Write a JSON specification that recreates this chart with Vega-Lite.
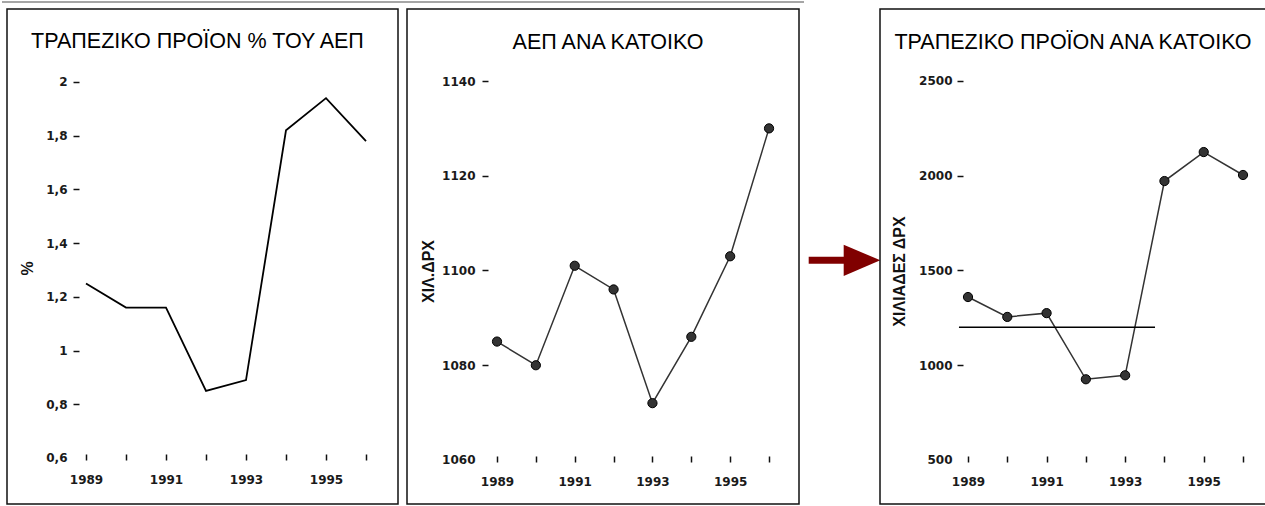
{
  "$schema": "https://vega.github.io/schema/vega-lite/v6.json",
  "padding": 0,
  "bounds": "flush",
  "spacing": 9,
  "background": "white",
  "config": {
    "font": "Liberation Sans",
    "view": {"stroke": "#111", "strokeWidth": 1.5},
    "axis": {
      "domain": false, "grid": false, "ticks": true, "tickSize": 6, "tickWidth": 1.5, "tickColor": "#111",
      "labelFont": "DejaVu Sans", "labelFontWeight": "bold", "labelFontSize": 12, "labelColor": "#1a1a1a",
      "titleFont": "Liberation Sans", "titleFontWeight": "bold", "titleFontSize": 16, "titleColor": "#111",
      "labelOverlap": false, "labelFlush": false
    },
    "axisY": {"titleAngle": -90, "titleAlign": "center", "titleBaseline": "middle"},
    "title": {"font": "Liberation Sans", "fontSize": 21.5, "fontWeight": "normal", "color": "#000", "anchor": "middle", "frame": "group", "baseline": "top"}
  },
  "data": {"values": [
    {"year": 1989, "bank_share": 1.25, "gdp_per_capita": 1085, "bank_per_capita": 1360},
    {"year": 1990, "bank_share": 1.16, "gdp_per_capita": 1080, "bank_per_capita": 1255},
    {"year": 1991, "bank_share": 1.16, "gdp_per_capita": 1101, "bank_per_capita": 1275},
    {"year": 1992, "bank_share": 0.85, "gdp_per_capita": 1096, "bank_per_capita": 926},
    {"year": 1993, "bank_share": 0.89, "gdp_per_capita": 1072, "bank_per_capita": 947},
    {"year": 1994, "bank_share": 1.82, "gdp_per_capita": 1086, "bank_per_capita": 1972},
    {"year": 1995, "bank_share": 1.94, "gdp_per_capita": 1103, "bank_per_capita": 2125},
    {"year": 1996, "bank_share": 1.78, "gdp_per_capita": 1130, "bank_per_capita": 2004}
  ]},
  "hconcat": [
    {
      "width": 391, "height": 495,
      "title": {"text": "ΤΡΑΠΕΖΙΚΟ ΠΡΟΪΟΝ % ΤΟΥ ΑΕΠ", "offset": -51.5, "dx": -5},
      "layer": [
        {
          "mark": {"type": "line", "color": "#000", "strokeWidth": 1.8},
          "encoding": {
            "x": {"field": "year", "type": "quantitative", "scale": {"domain": [1987.025, 1996.8], "nice": false, "zero": false},
              "axis": {"values": [1989, 1990, 1991, 1992, 1993, 1994, 1995, 1996], "labelExpr": "datum.value % 2 == 1 ? toString(datum.value) : ''", "title": null, "offset": -50, "labelPadding": 14}},
            "y": {"field": "bank_share", "type": "quantitative", "scale": {"domain": [0.4287, 2.2718], "nice": false, "zero": false},
              "axis": {"values": [0.6, 0.8, 1, 1.2, 1.4, 1.6, 1.8, 2], "labelExpr": "replace(toString(datum.value), '.', ',')", "title": "%", "titleX": -52, "titleY": 259, "offset": -72, "labelPadding": 6,
                "tickOpacity": {"condition": {"test": "datum.value < 0.7", "value": 0}, "value": 1}}}
          }
        },
        {
          "data": {"values": [{"from": 1986.9, "to": 2006.95, "level": 2.298}]},
          "mark": {"type": "rule", "color": "#a6a6a6", "strokeWidth": 2},
          "encoding": {
            "x": {"field": "from", "type": "quantitative", "scale": {"domain": [1987.025, 1996.8], "nice": false, "zero": false},
              "axis": {"values": [1989, 1990, 1991, 1992, 1993, 1994, 1995, 1996], "labelExpr": "datum.value % 2 == 1 ? toString(datum.value) : ''", "title": null, "offset": -50, "labelPadding": 14}},
            "x2": {"field": "to"},
            "y": {"field": "level", "type": "quantitative", "scale": {"domain": [0.4287, 2.2718], "nice": false, "zero": false},
              "axis": {"values": [0.6, 0.8, 1, 1.2, 1.4, 1.6, 1.8, 2], "labelExpr": "replace(toString(datum.value), '.', ',')", "title": "%", "titleX": -52, "titleY": 259, "offset": -72, "labelPadding": 6,
                "tickOpacity": {"condition": {"test": "datum.value < 0.7", "value": 0}, "value": 1}}}
          }
        }
      ]
    },
    {
      "width": 392, "height": 495,
      "title": {"text": "ΑΕΠ ΑΝΑ ΚΑΤΟΙΚΟ", "offset": -44.25, "dx": 5},
      "mark": {"type": "line", "color": "#333", "strokeWidth": 1.5, "point": {"filled": true, "size": 85, "fill": "#333", "stroke": "#000", "strokeWidth": 1, "opacity": 1}},
      "encoding": {
        "x": {"field": "year", "type": "quantitative", "scale": {"domain": [1986.684, 1996.771], "nice": false, "zero": false},
          "axis": {"values": [1989, 1990, 1991, 1992, 1993, 1994, 1995, 1996], "labelExpr": "datum.value % 2 == 1 ? toString(datum.value) : ''", "title": null, "offset": -48, "labelPadding": 14}},
        "y": {"field": "gdp_per_capita", "type": "quantitative", "scale": {"domain": [1050.71, 1155.2], "nice": false, "zero": false},
          "axis": {"values": [1060, 1080, 1100, 1120, 1140], "format": "d", "title": "ΧΙΛ.ΔΡΧ", "titleX": -59.5, "titleY": 262, "offset": -81, "labelPadding": 7,
            "tickOpacity": {"condition": {"test": "datum.value < 1070", "value": 0}, "value": 1}}}
      }
    },
    {
      "width": 63, "height": 495,
      "view": {"stroke": null},
      "layer": [
        {
          "data": {"values": [{"start": 0.011, "end": 0.619, "level": 0.4923}]},
          "mark": {"type": "rule", "color": "#800000", "strokeWidth": 7},
          "encoding": {
            "x": {"field": "start", "type": "quantitative", "scale": {"domain": [0, 1]}, "axis": null},
            "x2": {"field": "end"},
            "y": {"field": "level", "type": "quantitative", "scale": {"domain": [0, 1]}, "axis": null}
          }
        },
        {
          "data": {"values": [{"tip": 0.857, "level": 0.4923}]},
          "mark": {"type": "point", "shape": "M -1 -0.855 L 1 0 L -1 0.855 Z", "size": 1340, "filled": true, "color": "#800000", "opacity": 1},
          "encoding": {
            "x": {"field": "tip", "type": "quantitative", "scale": {"domain": [0, 1]}, "axis": null},
            "y": {"field": "level", "type": "quantitative", "scale": {"domain": [0, 1]}, "axis": null}
          }
        }
      ]
    },
    {
      "width": 386, "height": 495,
      "title": {"text": "ΤΡΑΠΕΖΙΚΟ ΠΡΟΪΟΝ ΑΝΑ ΚΑΤΟΙΚΟ", "offset": -44.25},
      "layer": [
        {
          "mark": {"type": "line", "color": "#333", "strokeWidth": 1.5, "point": {"filled": true, "size": 85, "fill": "#333", "stroke": "#000", "strokeWidth": 1, "opacity": 1}},
          "encoding": {
            "x": {"field": "year", "type": "quantitative", "scale": {"domain": [1986.76, 1996.585], "nice": false, "zero": false},
              "axis": {"values": [1989, 1990, 1991, 1992, 1993, 1994, 1995, 1996], "labelExpr": "datum.value % 2 == 1 ? toString(datum.value) : ''", "title": null, "offset": -48, "labelPadding": 14}},
            "y": {"field": "bank_per_capita", "type": "quantitative", "scale": {"domain": [267.8, 2879.9], "nice": false, "zero": false},
              "axis": {"values": [500, 1000, 1500, 2000, 2500], "format": "d", "title": "ΧΙΛΙΑΔΕΣ ΔΡΧ", "titleX": -63.5, "titleY": 262, "offset": -83, "labelPadding": 5,
                "tickOpacity": {"condition": {"test": "datum.value < 600", "value": 0}, "value": 1}}}
          }
        },
        {
          "data": {"values": [{"from": 1988.77, "to": 1993.76, "level": 1200}]},
          "mark": {"type": "rule", "color": "#000", "strokeWidth": 1.5},
          "encoding": {
            "x": {"field": "from", "type": "quantitative", "scale": {"domain": [1986.76, 1996.585], "nice": false, "zero": false},
              "axis": {"values": [1989, 1990, 1991, 1992, 1993, 1994, 1995, 1996], "labelExpr": "datum.value % 2 == 1 ? toString(datum.value) : ''", "title": null, "offset": -48, "labelPadding": 14}},
            "x2": {"field": "to"},
            "y": {"field": "level", "type": "quantitative", "scale": {"domain": [267.8, 2879.9], "nice": false, "zero": false},
              "axis": {"values": [500, 1000, 1500, 2000, 2500], "format": "d", "title": "ΧΙΛΙΑΔΕΣ ΔΡΧ", "titleX": -63.5, "titleY": 262, "offset": -83, "labelPadding": 5,
                "tickOpacity": {"condition": {"test": "datum.value < 600", "value": 0}, "value": 1}}}
          }
        }
      ]
    }
  ]
}
